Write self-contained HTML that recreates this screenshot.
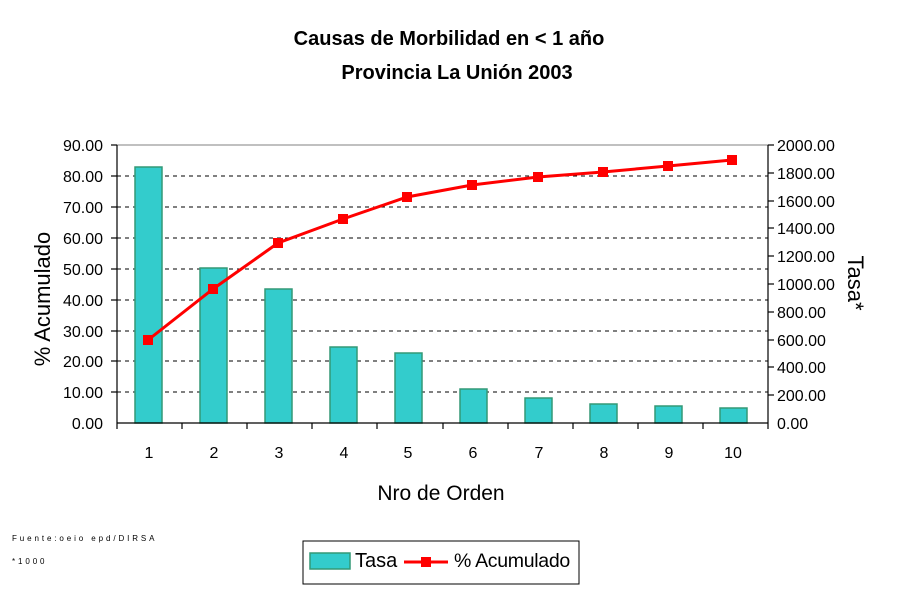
<!DOCTYPE html>
<html><head><meta charset="utf-8"><style>body{margin:0;background:#fff}svg{display:block}</style></head>
<body>
<svg width="900" height="600" xmlns="http://www.w3.org/2000/svg" font-family="Liberation Sans, Arial, sans-serif">
<text x="449" y="45" text-anchor="middle" font-size="20" font-weight="bold">Causas de Morbilidad en &lt; 1 año</text>
<text x="457" y="79" text-anchor="middle" font-size="20" font-weight="bold">Provincia La Unión 2003</text>
<g stroke="#000" stroke-dasharray="4,4" stroke-width="1">
<line x1="117" x2="768" y1="176" y2="176"/><line x1="117" x2="768" y1="207" y2="207"/>
<line x1="117" x2="768" y1="238" y2="238"/><line x1="117" x2="768" y1="269" y2="269"/>
<line x1="117" x2="768" y1="300" y2="300"/><line x1="117" x2="768" y1="331" y2="331"/>
<line x1="117" x2="768" y1="361" y2="361"/><line x1="117" x2="768" y1="392" y2="392"/>
</g>
<line x1="117" x2="768" y1="145" y2="145" stroke="#808080"/>
<g fill="#33CCCC" stroke="#339977" stroke-width="1.5">
<rect x="135" y="167" width="27" height="256"/>
<rect x="200" y="268" width="27" height="155"/>
<rect x="265" y="289" width="27" height="134"/>
<rect x="330" y="347" width="27" height="76"/>
<rect x="395" y="353" width="27" height="70"/>
<rect x="460" y="389" width="27" height="34"/>
<rect x="525" y="398" width="27" height="25"/>
<rect x="590" y="404" width="27" height="19"/>
<rect x="655" y="406" width="27" height="17"/>
<rect x="720" y="408" width="27" height="15"/>
</g>
<g stroke="#000" stroke-width="1.2">
<line x1="117" x2="117" y1="145" y2="423"/><line x1="768" x2="768" y1="145" y2="423"/>
<line x1="117" x2="768" y1="423" y2="423"/>
<line x1="117" x2="117" y1="423" y2="429"/><line x1="182" x2="182" y1="423" y2="429"/>
<line x1="247" x2="247" y1="423" y2="429"/><line x1="312" x2="312" y1="423" y2="429"/>
<line x1="377" x2="377" y1="423" y2="429"/><line x1="443" x2="443" y1="423" y2="429"/>
<line x1="508" x2="508" y1="423" y2="429"/><line x1="573" x2="573" y1="423" y2="429"/>
<line x1="638" x2="638" y1="423" y2="429"/><line x1="703" x2="703" y1="423" y2="429"/>
<line x1="768" x2="768" y1="423" y2="429"/>
<line x1="111" x2="117" y1="145" y2="145"/><line x1="111" x2="117" y1="176" y2="176"/><line x1="111" x2="117" y1="207" y2="207"/><line x1="111" x2="117" y1="238" y2="238"/><line x1="111" x2="117" y1="269" y2="269"/><line x1="111" x2="117" y1="300" y2="300"/><line x1="111" x2="117" y1="331" y2="331"/><line x1="111" x2="117" y1="361" y2="361"/><line x1="111" x2="117" y1="392" y2="392"/>
<line x1="768" x2="774" y1="145" y2="145"/><line x1="768" x2="774" y1="173" y2="173"/><line x1="768" x2="774" y1="201" y2="201"/><line x1="768" x2="774" y1="228" y2="228"/><line x1="768" x2="774" y1="256" y2="256"/><line x1="768" x2="774" y1="284" y2="284"/><line x1="768" x2="774" y1="312" y2="312"/><line x1="768" x2="774" y1="340" y2="340"/><line x1="768" x2="774" y1="367" y2="367"/><line x1="768" x2="774" y1="395" y2="395"/>
</g>
<polyline points="148,340 213,289 278,243 343,219 407,197 472,185 538,177 603,172 668,166 732,160" fill="none" stroke="#FF0000" stroke-width="3"/>
<g fill="#FF0000">
<rect x="143" y="335" width="10" height="10"/><rect x="208" y="284" width="10" height="10"/><rect x="273" y="238" width="10" height="10"/><rect x="338" y="214" width="10" height="10"/><rect x="402" y="192" width="10" height="10"/><rect x="467" y="180" width="10" height="10"/><rect x="533" y="172" width="10" height="10"/><rect x="598" y="167" width="10" height="10"/><rect x="663" y="161" width="10" height="10"/><rect x="727" y="155" width="10" height="10"/>
</g>
<g font-size="16" text-anchor="end">
<text x="103" y="151">90.00</text><text x="103" y="182">80.00</text><text x="103" y="213">70.00</text><text x="103" y="244">60.00</text><text x="103" y="275">50.00</text><text x="103" y="306">40.00</text><text x="103" y="337">30.00</text><text x="103" y="367">20.00</text><text x="103" y="398">10.00</text><text x="103" y="429">0.00</text>
</g>
<g font-size="16" text-anchor="start">
<text x="777" y="151">2000.00</text><text x="777" y="179">1800.00</text><text x="777" y="207">1600.00</text><text x="777" y="234">1400.00</text><text x="777" y="262">1200.00</text><text x="777" y="290">1000.00</text><text x="777" y="318">800.00</text><text x="777" y="346">600.00</text><text x="777" y="373">400.00</text><text x="777" y="401">200.00</text><text x="777" y="429">0.00</text>
</g>
<g font-size="16" text-anchor="middle">
<text x="149" y="458">1</text><text x="214" y="458">2</text><text x="279" y="458">3</text><text x="344" y="458">4</text><text x="408" y="458">5</text><text x="473" y="458">6</text><text x="539" y="458">7</text><text x="604" y="458">8</text><text x="669" y="458">9</text><text x="733" y="458">10</text>
</g>
<text x="441" y="500" text-anchor="middle" font-size="21">Nro de Orden</text>
<text transform="translate(50,299) rotate(-90)" text-anchor="middle" font-size="22">% Acumulado</text>
<text transform="translate(848,283) rotate(90)" text-anchor="middle" font-size="22">Tasa*</text>
<text x="12" y="541" font-size="8" letter-spacing="2.9">Fuente:oeio epd/DIRSA</text>
<text x="12" y="564" font-size="8" letter-spacing="2.9">*1000</text>
<rect x="303" y="541" width="276" height="43" fill="#fff" stroke="#000"/>
<rect x="310" y="553" width="40" height="16" fill="#33CCCC" stroke="#339977" stroke-width="1.5"/>
<text x="355" y="567" font-size="20">Tasa</text>
<line x1="404" x2="448" y1="562" y2="562" stroke="#FF0000" stroke-width="3"/>
<rect x="421" y="557" width="10" height="10" fill="#FF0000"/>
<text x="454" y="567" font-size="19.5" letter-spacing="-0.3">% Acumulado</text>
</svg>
</body></html>
